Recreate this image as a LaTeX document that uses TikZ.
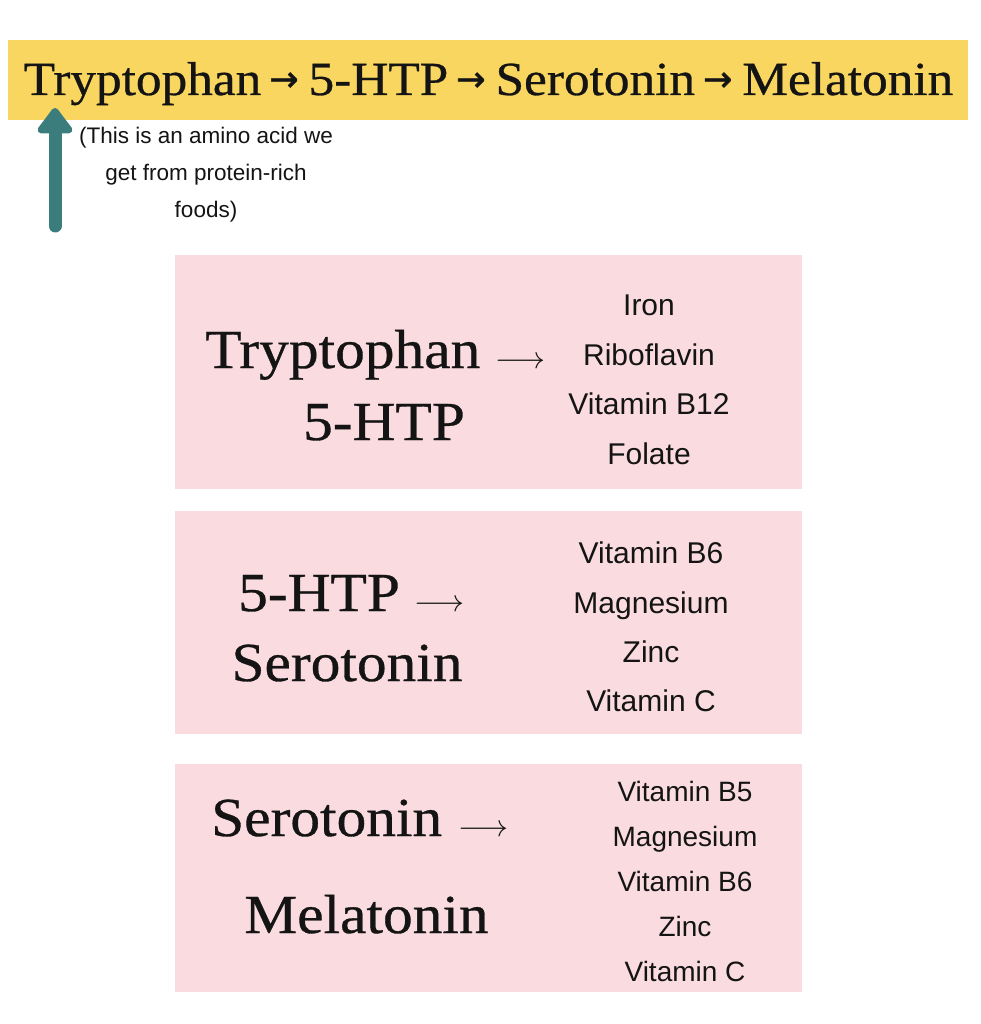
\RequirePackage{fix-cm}
\documentclass[tikz,border=0pt]{standalone}
\usepackage{fontspec}
\setmainfont{Liberation Sans}
\newfontfamily\headfont[FakeStretch=1.08,FakeBold=0.6]{Liberation Serif}
\newfontfamily\arrfont[FakeBold=1.5]{DejaVu Sans}
\usetikzlibrary{arrows.meta}
\usetikzlibrary{positioning}
\definecolor{barYellow}{RGB}{248,214,96}
\definecolor{boxPink}{RGB}{250,220,224}
\definecolor{arrowTeal}{RGB}{58,125,124}
\definecolor{ink}{RGB}{20,20,20}
\tikzstyle{bar}=[rectangle,fill=barYellow,inner sep=0pt,minimum width=960pt,minimum height=80pt]
\tikzstyle{pinkbox}=[rectangle,fill=boxPink,inner sep=0pt,minimum width=627pt]
\tikzstyle{title}=[inner sep=0pt,anchor=base,text=ink,font=\headfont\fontsize{47.5}{58}\selectfont]
\tikzstyle{stepname}=[inner sep=0pt,text=ink,font=\headfont\fontsize{55}{64}\selectfont]
\tikzstyle{steparrow}=[inner sep=0pt,text=ink,font=\fontsize{31}{31}\selectfont]
\tikzstyle{nutrient}=[inner sep=0pt,anchor=base,text=ink,font=\fontsize{30}{36}\selectfont]
\tikzstyle{note}=[inner sep=0pt,anchor=base,text=ink,font=\fontsize{22.5}{26}\selectfont]
\newcommand{\smallarr}{\hspace{8pt}\raisebox{4pt}{\arrfont\fontsize{35}{35}\selectfont →}\hspace{10pt}}

\begin{document}
\begin{tikzpicture}[x=1pt,y=-1pt]

  \fill[white] (0,0) rectangle (980,1024);
  \useasboundingbox (0,0) rectangle (980,1024);

  % pathway bar
  \node[bar] (bar) at (488,80) {};
  \node[title] (path) at (488.5,95) {Tryptophan\smallarr5-HTP\smallarr Serotonin\smallarr Melatonin};

  % amino acid note
  \foreach \y/\name/\label in {144/n1/{(This is an amino acid we}, 181/n2/{get from protein-rich}, 218/n3/{foods)}}
          \node[note] (\name) at (206,\y) {\label};

  \coordinate (tail) at (55,226);
  \coordinate (tip) at (55,108);
  \draw[arrowTeal, line width=13pt, line cap=round, -{Triangle[width=40pt,length=28pt,round]}] (tail) -- (tip);

  % boxes
  \node[pinkbox, minimum height=234pt] (box1) at (488.5,372) {};
  \node[pinkbox, minimum height=223pt] (box2) at (488.5,622.5) {};
  \node[pinkbox, minimum height=228pt] (box3) at (488.5,878) {};

  % step 1
  \node[stepname, anchor=base west] (trp1) at (205,368) {Tryptophan};
  \node[steparrow, base right=15pt of trp1] (arr1) {$\longrightarrow$};
  \node[stepname, anchor=base] (htp1) at (384,440) {5-HTP};
  \foreach \y/\name/\label in {315/ir/Iron, 365/rb/Riboflavin, 414/bt/Vitamin B12, 464/fo/Folate}
          \node[nutrient] (\name) at (649,\y) {\label};

  % step 2
  \node[stepname, anchor=base west] (htp2) at (238,611) {5-HTP};
  \node[steparrow, base right=14pt of htp2] (arr2) {$\longrightarrow$};
  \node[stepname, anchor=base] (ser2) at (347,681) {Serotonin};
  \foreach \y/\name/\label in {563/bs/Vitamin B6, 613/mg/Magnesium, 662/zn/Zinc, 711/vc/Vitamin C}
          \node[nutrient] (\name) at (651,\y) {\label};

  % step 3
  \node[stepname, anchor=base west] (ser3) at (211,836) {Serotonin};
  \node[steparrow, base right=16pt of ser3] (arr3) {$\longrightarrow$};
  \node[stepname, anchor=base] (mel3) at (366.5,933) {Melatonin};
  \foreach \y/\name/\label in {801/bf/Vitamin B5, 846/mg3/Magnesium, 891/bs3/Vitamin B6, 936/zn3/Zinc, 981/vc3/Vitamin C}
          \node[nutrient, font=\fontsize{28}{34}\selectfont] (\name) at (685,\y) {\label};

\end{tikzpicture}
\end{document}
